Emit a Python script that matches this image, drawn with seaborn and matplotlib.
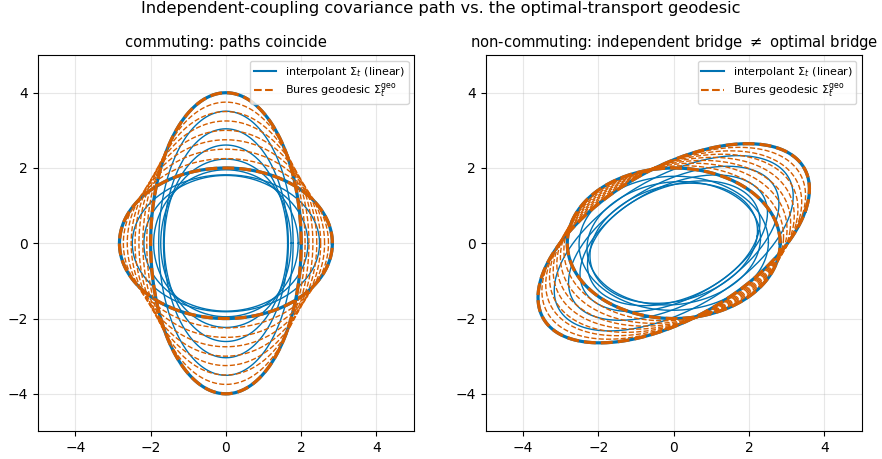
import numpy as np
import pandas as pd
import matplotlib
matplotlib.use("Agg")
import matplotlib.pyplot as plt
import seaborn as sns
from matplotlib.lines import Line2D

# interpolation times
t_values = [0.0, 0.125, 0.25, 0.375, 0.5, 0.625, 0.75, 0.875, 1.0]

# endpoint covariances
sigma0_commuting = [[1.0, 0.0], [0.0, 4.0]]
sigma1_commuting = [[2.0, 0.0], [0.0, 1.0]]
sigma0_noncommuting = [[3.25, 1.299], [1.299, 1.75]]   # diag(4,1) rotated by 30 deg
sigma1_noncommuting = [[2.0, 0.0], [0.0, 1.0]]

n_std = 2.0
titles = ["commuting: paths coincide",
          "non-commuting: independent bridge $\\neq$ optimal bridge"]

BLUE = "#0072B2"
ORANGE = "#D55E00"


def sqrtm(S):
    w, V = np.linalg.eigh(S)
    return V @ np.diag(np.sqrt(np.clip(w, 0, None))) @ V.T


def ellipse_df(S, n=300):
    th = np.linspace(0, 2 * np.pi, n)
    pts = n_std * sqrtm(S) @ np.vstack([np.cos(th), np.sin(th)])
    return pd.DataFrame({"x": pts[0], "y": pts[1]})


def independent_path(S0, S1, t):
    return (1 - t) ** 2 * S0 + t ** 2 * S1


def bures_path(S0, S1, t):
    r0 = sqrtm(S0)
    r0i = np.linalg.inv(r0)
    T = r0i @ sqrtm(r0 @ S1 @ r0) @ r0i
    M = (1 - t) * np.eye(2) + t * T
    return M @ S0 @ M.T


fig, axes = plt.subplots(1, 2, figsize=(8.82, 4.59), dpi=100)
fig.subplots_adjust(left=0.041, right=0.979, top=0.88, bottom=0.06, wspace=0.18)

pairs = [(sigma0_commuting, sigma1_commuting), (sigma0_noncommuting, sigma1_noncommuting)]

for ax, (S0, S1), title in zip(axes, pairs, titles):
    S0 = np.array(S0)
    S1 = np.array(S1)
    for t in t_values:
        lw = 2.3 if t in (0.0, 1.0) else 1.0
        df = ellipse_df(independent_path(S0, S1, t))
        sns.lineplot(data=df, x="x", y="y", sort=False, estimator=None,
                     color=BLUE, lw=lw, ax=ax, legend=False)
    for t in t_values:
        lw = 2.3 if t in (0.0, 1.0) else 1.0
        df = ellipse_df(bures_path(S0, S1, t))
        sns.lineplot(data=df, x="x", y="y", sort=False, estimator=None,
                     color=ORANGE, lw=lw, linestyle="--", ax=ax, legend=False)

    ax.set_xlim(-5, 5)
    ax.set_ylim(-5, 5)
    ax.set_aspect("equal")
    ax.set_xticks([-4, -2, 0, 2, 4])
    ax.set_yticks([-4, -2, 0, 2, 4])
    ax.set_xlabel("")
    ax.set_ylabel("")
    ax.grid(True, alpha=0.3)
    ax.set_title(title, fontsize=10.6)

    handles = [Line2D([], [], color=BLUE, lw=1.5),
               Line2D([], [], color=ORANGE, lw=1.5, linestyle="--")]
    labels = ["interpolant $\\Sigma_t$ (linear)", "Bures geodesic $\\Sigma_t^{\\mathrm{geo}}$"]
    ax.legend(handles, labels, loc="upper right", fontsize=8,
              labelspacing=0.3, borderpad=0.35)

fig.suptitle("Independent-coupling covariance path vs. the optimal-transport geodesic",
             fontsize=11.7, y=0.997)

plt.savefig("out.png", dpi=100)
